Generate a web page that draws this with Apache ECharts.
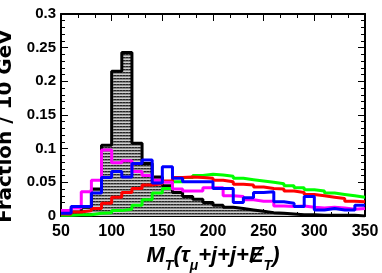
<!DOCTYPE html>
<html>
<head>
<meta charset="utf-8">
<script src="https://cdn.jsdelivr.net/npm/echarts@6/dist/echarts.min.js"></script>
<style>html,body{margin:0;padding:0;background:#fff}#c{width:382px;height:273px}</style>
</head>
<body>
<div id="c"></div>
<script>
const binStart = 50;
const binWidth = 10;
const xTickLabels = ['50','100','150','200','250','300','350'];
const yTickLabels = ['0','0.05','0.1','0.15','0.2','0.25','0.3'];

const blackHist = [0.003,0.006,0.013,0.040,0.105,0.215,0.243,0.108,0.078,0.058,0.045,0.035,0.029,0.025,0.020,0.016,0.013,0.011,0.009,0.007,0.005,0.004,0.003,0.002,0.002,0.001,0.001,0.001,0.001,0.000];
const greenHist = [0.001,0.002,0.002,0.004,0.005,0.008,0.010,0.016,0.024,0.034,0.041,0.051,0.057,0.060,0.062,0.061,0.059,0.056,0.054,0.052,0.050,0.048,0.045,0.042,0.039,0.037,0.034,0.032,0.030,0.028];
const redHist = [0.003,0.006,0.008,0.011,0.019,0.028,0.035,0.041,0.046,0.048,0.052,0.057,0.058,0.057,0.056,0.053,0.051,0.047,0.046,0.043,0.041,0.040,0.037,0.035,0.032,0.030,0.028,0.026,0.022,0.021];
const magentaHist = [0.008,0.012,0.036,0.053,0.098,0.079,0.082,0.066,0.060,0.053,0.050,0.040,0.037,0.037,0.042,0.042,0.030,0.029,0.024,0.022,0.022,0.015,0.014,0.015,0.013,0.012,0.013,0.012,0.010,0.011];
const blueHist = [0.004,0.014,0.014,0.034,0.057,0.066,0.058,0.078,0.083,0.049,0.073,0.056,0.051,0.051,0.051,0.041,0.041,0.020,0.027,0.035,0.036,0.021,0.019,0.014,0.029,0.009,0.011,0.009,0.009,0.016];

function toSteps(vals) {
  const pts = vals.map((v, i) => [binStart + i * binWidth, v]);
  pts.push([binStart + vals.length * binWidth, vals[vals.length - 1]]);
  return pts;
}

// hatch pattern for the filled histogram
const pc = document.createElement('canvas');
pc.width = 3; pc.height = 3;
const g = pc.getContext('2d');
g.fillStyle = '#8a8a8a'; g.fillRect(0, 0, 3, 3);
g.fillStyle = '#262626'; g.fillRect(0, 0, 2, 1);
g.fillStyle = '#505050'; g.fillRect(2, 0, 1, 1);
g.fillStyle = '#cfcfcf'; g.fillRect(0, 2, 3, 1);

const tickFont = {color: '#000', fontFamily: 'Liberation Sans', fontWeight: 'bold'};

function xAx(pos, showLabel) {
  return {
    type: 'value', position: pos, min: 50, max: 350, interval: 50,
    axisLine: {show: true, onZero: false, lineStyle: {color: '#000', width: 2}},
    axisTick: {show: true, inside: true, length: 7, lineStyle: {color: '#000', width: 1}},
    minorTick: {show: true, splitNumber: 3, length: 4, lineStyle: {color: '#000', width: 1}},
    splitLine: {show: false},
    axisLabel: {show: showLabel, margin: 8, fontSize: 16, ...tickFont,
      formatter: v => xTickLabels[Math.round((v - 50) / 50)]},
  };
}
function yAx(pos, showLabel) {
  return {
    type: 'value', position: pos, min: 0, max: 0.3, interval: 0.05,
    axisLine: {show: true, onZero: false, lineStyle: {color: '#000', width: 2}},
    axisTick: {show: true, inside: true, length: 7, lineStyle: {color: '#000', width: 1}},
    minorTick: {show: true, splitNumber: 5, length: 4, lineStyle: {color: '#000', width: 1}},
    splitLine: {show: false},
    axisLabel: {show: showLabel, margin: 5, fontSize: 15, ...tickFont,
      formatter: v => yTickLabels[Math.round(v / 0.05)]},
  };
}

const xMain = xAx('bottom', true);
xMain.name = '{a|M}{s|T}{a|(τ}{s|μ}{a|+j+j+Ɇ}{s|T}{a|)}';
xMain.nameLocation = 'middle';
xMain.nameGap = 26;
xMain.nameTextStyle = {
  rich: {
    a: {fontSize: 22, fontWeight: 'bold', fontStyle: 'italic', fontFamily: 'Liberation Sans, DejaVu Sans', color: '#000', verticalAlign: 'top', lineHeight: 26},
    s: {fontSize: 14, fontWeight: 'bold', fontStyle: 'italic', fontFamily: 'Liberation Sans', color: '#000', padding: [14, 0, 0, 0], verticalAlign: 'top', lineHeight: 26}
  }
};
const yMain = yAx('left', true);
yMain.name = 'Fraction / 10 GeV';
yMain.nameLocation = 'middle';
yMain.nameGap = 41;
yMain.nameTextStyle = {fontSize: 20, fontWeight: 'bold', fontFamily: 'DejaVu Sans', color: '#000', padding: [0, 22, 0, 0]};

function stepSeries(vals, color, extra) {
  return Object.assign({
    type: 'line', step: 'end', data: toSteps(vals), showSymbol: false, symbol: 'none',
    lineStyle: {color: color, width: 3}, itemStyle: {color: color}, animation: false, clip: true,
    xAxisIndex: 0, yAxisIndex: 0
  }, extra || {});
}

const chart = echarts.init(document.getElementById('c'), null, {renderer: 'canvas'});
chart.setOption({
  backgroundColor: '#fff',
  animation: false,
  grid: {left: 61, right: 17, top: 14, bottom: 57, containLabel: false, outerBoundsMode: 'none'},
  xAxis: [xMain, xAx('top', false)],
  yAxis: [yMain, yAx('right', false)],
  series: [
    stepSeries(blackHist, '#000', {areaStyle: {color: {image: pc, repeat: 'repeat'}, opacity: 1}}),
    stepSeries(greenHist, '#00ff00'),
    stepSeries(redHist, '#ff0000'),
    stepSeries(magentaHist, '#ff00ff'),
    stepSeries(blueHist, '#0000ff')
  ]
});
</script>
</body>
</html>
